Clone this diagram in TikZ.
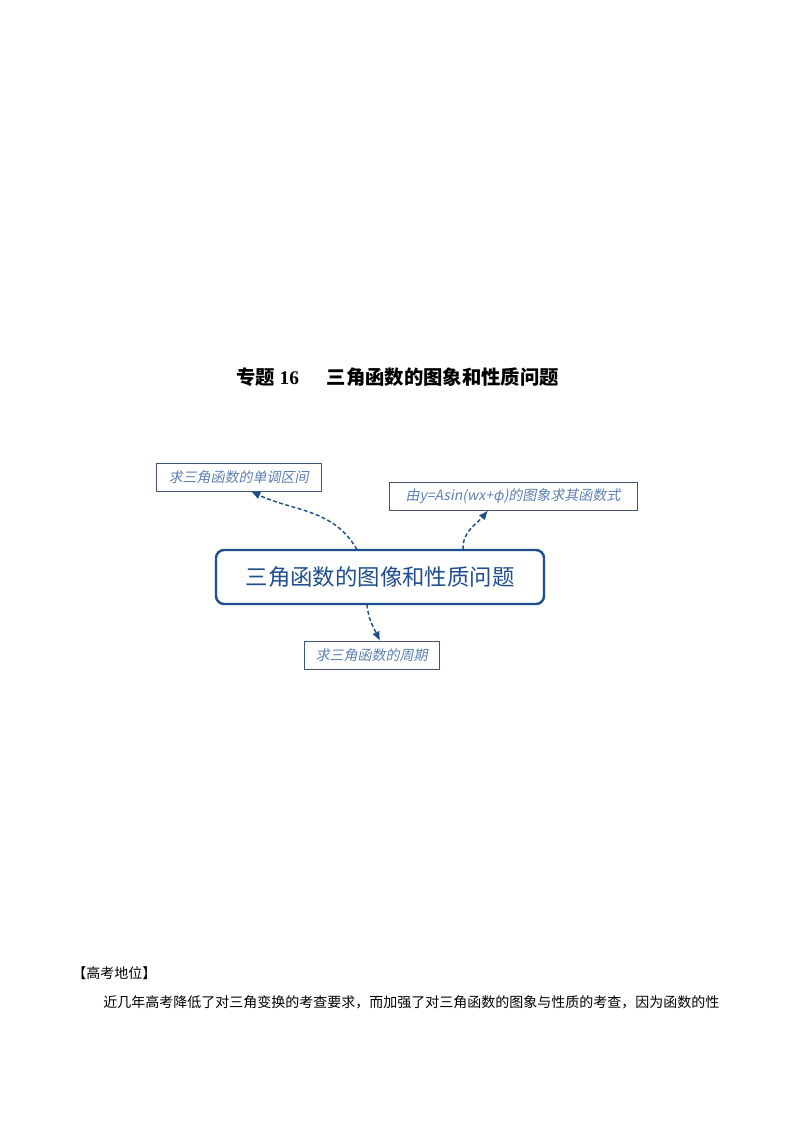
\documentclass[tikz,border=0pt]{standalone}
\usepackage{fontspec}
\setmainfont{Liberation Serif}
\newfontfamily\cjk{Noto Sans CJK SC}
\newfontfamily\cjkit[FakeSlant=0.2]{Noto Sans CJK SC}
\usepackage{tikz}
\usetikzlibrary{arrows.meta,positioning}
\definecolor{mainblue}{HTML}{1F4E8C}
\definecolor{subedge}{HTML}{3F5674}
\definecolor{subtext}{HTML}{5D80B2}

\begin{document}
\begin{tikzpicture}[
    x=0.75pt, y=-0.75pt,
    >={Latex[length=7pt,width=6pt]},
    mainbox/.style={
		rectangle,
		rounded corners=6pt,
		draw=mainblue,
		line width=1.8pt,
		text=mainblue,
		font=\cjk\fontsize{16.8}{18}\selectfont,
		minimum width=246pt,
		minimum height=40.5pt,
		fill=white
	},
	subbox/.style={
		rectangle,
		draw=subedge,
		line width=0.6pt,
		text=subtext,
		font=\cjkit\fontsize{10.5}{12}\selectfont,
		minimum height=21pt,
		inner xsep=6pt
	},
	link/.style={
		->,
		draw=mainblue,
		line width=1.1pt,
		dash pattern=on 3pt off 1.8pt
	}
  ]
  \useasboundingbox (0,0) rectangle (794,1123);
    % title and the blocks

  \node [font=\bfseries\fontsize{14.5}{18}\selectfont] (title) at (397.5,377)
  {{\cjk\bfseries 专题} 16\hspace{21pt}{\cjk\bfseries 三角函数的图象和性质问题}};

  \node [mainbox] (main) at (380,577) {三角函数的图像和性质问题};

  \node [subbox, minimum width=123.75pt] (mono) at (238.5,477) {求三角函数的单调区间};

  \node [subbox, minimum width=186pt] (formula) at (513,496) {由y=Asin(wx+φ)的图象求其函数式};

  \node [subbox, minimum width=101.25pt] (period) at (371.5,655) {求三角函数的周期};

  \coordinate (m1) at (357,549.5);
  \coordinate (m2) at (463,549.5);
  \coordinate (m3) at (367,604.5);
  \coordinate (s1) at (251,491.5);
  \coordinate (s2) at (488,510.5);
  \coordinate (s3) at (380,641);

  \draw [link] (m1) to [out=120, in=-25] (s1);
  \draw [link] (m2) to [out=92, in=-130] (s2);
  \draw [link] (m3) to [out=-85, in=115] (s3);

  % text below
  \node [anchor=west, inner sep=0pt, font=\cjk\fontsize{10.5}{12}\selectfont] (position) at (72,973) {【高考地位】};
  \node [anchor=west, inner sep=0pt, font=\cjk\fontsize{10.5}{12}\selectfont] (para) at (103,1002)
  {近几年高考降低了对三角变换的考查要求，而加强了对三角函数的图象与性质的考查，因为函数的性};

\end{tikzpicture}
\end{document}
